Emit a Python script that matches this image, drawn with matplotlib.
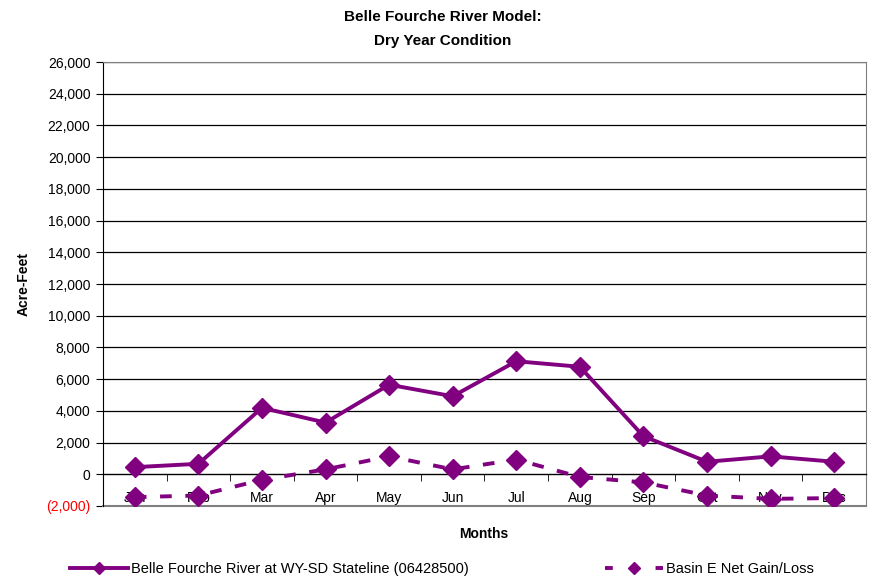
import matplotlib
matplotlib.use("Agg")
import matplotlib.pyplot as plt
from matplotlib.lines import Line2D
from matplotlib.ticker import FuncFormatter

plt.rcParams['font.family'] = ['Liberation Sans', 'DejaVu Sans']

months = ["Jan", "Feb", "Mar", "Apr", "May", "Jun", "Jul", "Aug", "Sep", "Oct", "Nov", "Dec"]
stateline = [450, 660, 4190, 3260, 5650, 4920, 7130, 6780, 2400, 790, 1130, 790]
basin_e = [-1440, -1340, -350, 310, 1130, 310, 930, -170, -510, -1340, -1550, -1500]
yticks = list(range(-2000, 26001, 2000))

purple = "#800080"

fig = plt.figure(figsize=(8.7, 5.77), dpi=100)
ax = fig.add_axes([103/870, 1-506/577, (866-103)/870, (506-62)/577])

x = list(range(len(months)))
ax.plot(x, stateline, color=purple, lw=2.8, marker='D', ms=10.5, zorder=4)
ax.plot(x, basin_e, color=purple, lw=2.8, ls=(0, (3, 3.5)), marker='D', ms=10.5, zorder=4)

ax.set_xlim(-0.5, 11.5)
ax.set_ylim(-2000, 26000)
ax.set_yticks(yticks)
ax.yaxis.set_major_formatter(FuncFormatter(lambda v, p: f"({abs(int(v)):,})" if v < 0 else f"{int(v):,}"))
for lab, v in zip(ax.get_yticklabels(), yticks):
    if v < 0:
        lab.set_color('red')
ax.tick_params(axis='y', direction='out', length=5, labelsize=10, pad=4)

for v in yticks:
    if 0 < v:
        ax.axhline(v, color='black', lw=0.9, zorder=1)

ax.set_xticks(x)
ax.set_xticklabels(months)
ax.set_xticks([i + 0.5 for i in range(12)], minor=True)
ax.tick_params(axis='x', which='major', length=0, pad=12, labelsize=10)
ax.tick_params(axis='x', which='minor', direction='out', length=5, color='black')

ax.spines['bottom'].set_position(('data', 0))
ax.spines['bottom'].set_color('black')
ax.spines['bottom'].set_linewidth(1.0)
ax.spines['left'].set_color('black')
ax.spines['top'].set_color('#808080')
ax.spines['right'].set_color('#808080')
ax.plot([0, 1], [0, 0], transform=ax.transAxes, color='#808080', lw=1.5, clip_on=False)

ax.set_ylabel("Acre-Feet", fontsize=10, fontweight='bold', labelpad=11)
fig.text(484/870, 1-534/577, "Months", ha='center', va='center', fontsize=10, fontweight='bold')
fig.text(443/870, 1-29/577, "Belle Fourche River Model:\nDry Year Condition", ha='center', va='center',
         fontsize=11, fontweight='bold', linespacing=1.85)

h1 = Line2D([], [], color=purple, lw=2.8, marker='D', ms=6)
h2 = Line2D([], [], color=purple, lw=2.8, ls=(0, (2, 4.5)), marker='D', ms=6)
leg1 = fig.legend([h1], ["Belle Fourche River at WY-SD Stateline (06428500)"], loc='center left',
                  bbox_to_anchor=(70/870, 1-569/577), frameon=False, fontsize=10.5,
                  handlelength=4.0, handletextpad=0.15, borderpad=0, borderaxespad=0)
leg2 = fig.legend([h2], ["Basin E Net Gain/Loss"], loc='center left',
                  bbox_to_anchor=(605/870, 1-569/577), frameon=False, fontsize=10.5,
                  handlelength=4.0, handletextpad=0.15, borderpad=0, borderaxespad=0)

fig.savefig("out.png", dpi=100)
